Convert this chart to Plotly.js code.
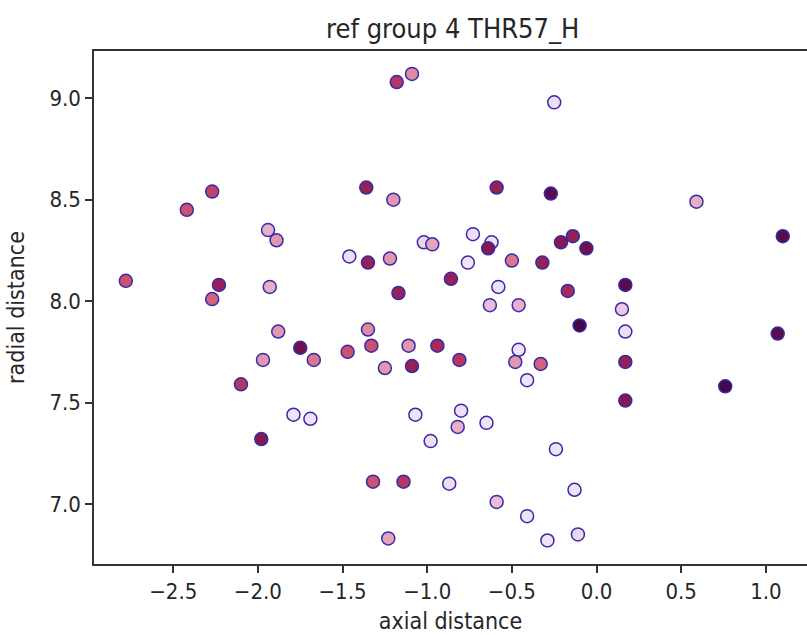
<!DOCTYPE html>
<html><head><meta charset="utf-8">
<script src="https://cdn.plot.ly/plotly-3.0.1.min.js"></script>
<style>html,body{margin:0;padding:0;background:#fff}</style>
</head><body><div id="chart" style="width:807px;height:635px"></div>
<script>
const axialDistance = [-2.78, -2.42, -2.27, -2.27, -2.23, -2.10, -1.98, -1.97, -1.94, -1.89,
  -1.93, -1.88, -1.75, -1.67, -1.79, -1.69, -1.46, -1.47, -1.35, -1.36,
  -1.35, -1.33, -1.32, -1.25, -1.23, -1.20, -1.22, -1.18, -1.09, -1.17,
  -1.14, -1.11, -1.09, -1.07, -1.02, -0.97, -0.98, -0.94, -0.87, -0.86,
  -0.81, -0.80, -0.82, -0.76, -0.73, -0.65, -0.62, -0.64, -0.63, -0.59,
  -0.59, -0.58, -0.50, -0.46, -0.48, -0.46, -0.41, -0.41, -0.33, -0.32,
  -0.29, -0.27, -0.25, -0.24, -0.21, -0.17, -0.14, -0.13, -0.11, -0.10,
  -0.06, 0.15, 0.17, 0.17, 0.17, 0.17, 0.59, 0.76, 1.07, 1.10];
const radialDistance = [8.10, 8.45, 8.54, 8.01, 8.08, 7.59, 7.32, 7.71, 8.35, 8.30,
  8.07, 7.85, 7.77, 7.71, 7.44, 7.42, 8.22, 7.75, 8.19, 8.56,
  7.86, 7.78, 7.11, 7.67, 6.83, 8.50, 8.21, 9.08, 9.12, 8.04,
  7.11, 7.78, 7.68, 7.44, 8.29, 8.28, 7.31, 7.78, 7.10, 8.11,
  7.71, 7.46, 7.38, 8.19, 8.33, 7.40, 8.29, 8.26, 7.98, 8.56,
  7.01, 8.07, 8.20, 7.76, 7.70, 7.98, 7.61, 6.94, 7.69, 8.19,
  6.82, 8.53, 8.98, 7.27, 8.29, 8.05, 8.32, 7.07, 6.85, 7.88,
  8.26, 7.96, 8.08, 7.85, 7.70, 7.51, 8.49, 7.58, 7.84, 8.32];
const colorValue = [0.60, 0.60, 0.65, 0.55, 0.80, 0.70, 0.85, 0.40, 0.30, 0.40,
  0.30, 0.40, 0.90, 0.50, 0.05, 0.05, 0.10, 0.60, 0.80, 0.80,
  0.45, 0.60, 0.60, 0.40, 0.35, 0.40, 0.40, 0.70, 0.45, 0.80,
  0.70, 0.40, 0.80, 0.05, 0.15, 0.35, 0.10, 0.75, 0.10, 0.80,
  0.70, 0.10, 0.30, 0.05, 0.10, 0.05, 0.05, 0.85, 0.25, 0.80,
  0.25, 0.05, 0.50, 0.05, 0.40, 0.30, 0.05, 0.05, 0.55, 0.80,
  0.05, 0.95, 0.10, 0.05, 0.85, 0.75, 0.80, 0.05, 0.15, 1.00,
  0.90, 0.20, 0.95, 0.10, 0.80, 0.85, 0.30, 1.00, 0.95, 0.95];
const xTickValues = [-2.5, -2.0, -1.5, -1.0, -0.5, 0.0, 0.5, 1.0];
const yTickValues = [7.0, 7.5, 8.0, 8.5, 9.0];
const chartTitle = 'ref group 4 THR57_H';
const xLabel = 'axial distance';
const yLabel = 'radial distance';

const FONT = '"DejaVu Sans Condensed", "DejaVu Sans", sans-serif';
const colorscale = [
  [0.00, '#f2eafc'], [0.15, '#ecd6ee'], [0.30, '#e6b0c8'], [0.45, '#de8aa2'],
  [0.60, '#cc5070'], [0.75, '#a82a5c'], [0.88, '#7a1250'], [1.00, '#420848']
];

const trace = {
  type: 'scatter', mode: 'markers',
  x: axialDistance, y: radialDistance,
  marker: {
    size: 13, color: colorValue, colorscale: colorscale, cmin: 0, cmax: 1,
    showscale: false,
    line: {color: '#3a2aa6', width: 1.5}
  },
  hoverinfo: 'x+y'
};

const axisCommon = {
  showgrid: false, zeroline: false, showline: true, linecolor: '#333', linewidth: 1.5,
  ticks: 'outside', ticklen: 7, tickwidth: 1.5, tickcolor: '#333',
  tickfont: {family: FONT, size: 22, color: '#262626'},
  tickformat: '.1f', tickmode: 'array'
};

const layout = {
  width: 807, height: 635,
  margin: {l: 94, r: 0, t: 51, b: 71, pad: 0},
  paper_bgcolor: '#fff', plot_bgcolor: '#fff',
  showlegend: false,
  title: {text: chartTitle, font: {family: FONT, size: 27, color: '#262626'},
    xref: 'container', yref: 'container', x: 0.561, y: 0.955, xanchor: 'center', yanchor: 'middle'},
  xaxis: Object.assign({}, axisCommon, {
    range: [-2.968, 1.243], tickvals: xTickValues, mirror: true,
    title: {text: xLabel, font: {family: FONT, size: 23, color: '#262626'}, standoff: 10}
  }),
  yaxis: Object.assign({}, axisCommon, {
    range: [6.704, 9.233], tickvals: yTickValues,
    title: {text: yLabel, font: {family: FONT, size: 23, color: '#262626'}, standoff: 18}
  })
};

Plotly.newPlot('chart', [trace], layout, {displayModeBar: false, staticPlot: false});
</script>
</body></html>
